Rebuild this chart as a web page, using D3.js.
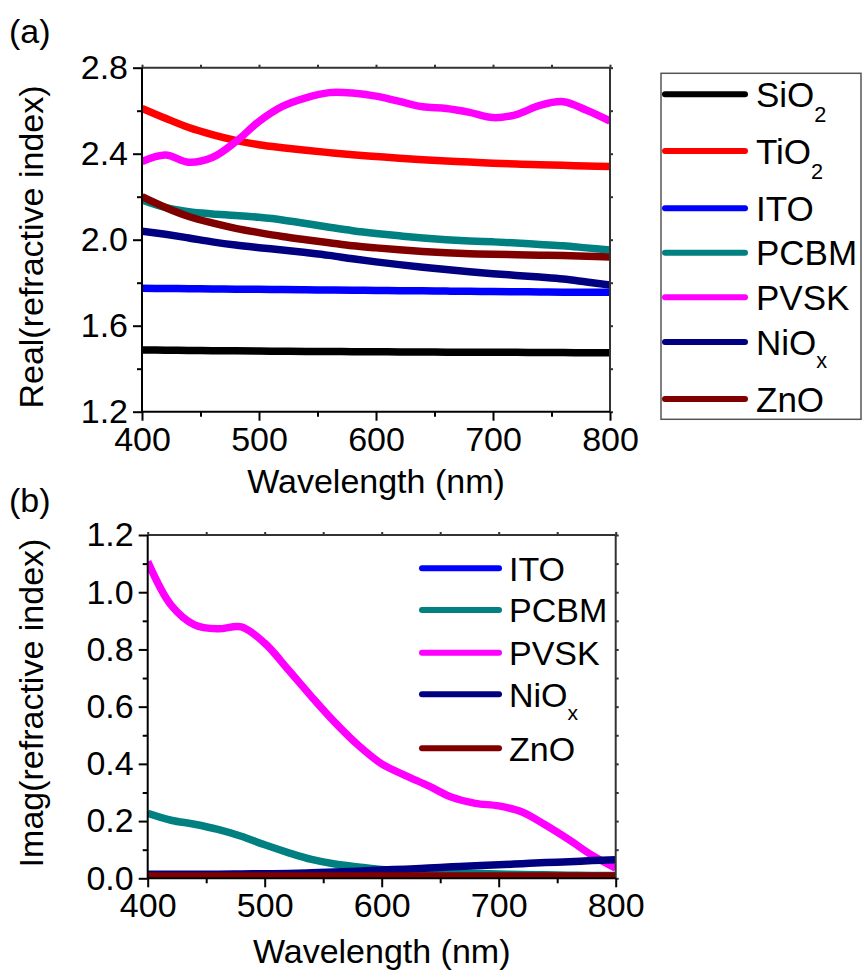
<!DOCTYPE html>
<html>
<head>
<meta charset="utf-8">
<script src="https://cdn.jsdelivr.net/npm/d3@7"></script>
<style>
  html, body { margin: 0; padding: 0; background: #fff; }
  svg { display: block; }
  svg text { font-family: "Liberation Sans", Arimo, Arial, sans-serif; }
</style>
</head>
<body>
<svg id="chart" width="862" height="974"></svg>
<script>
// Wavelength grid (nm) shared by every series
const wavelengths = [400, 420, 440, 460, 480, 500, 520, 540, 560, 580, 600,
                     620, 640, 660, 680, 700, 720, 740, 760, 780, 800];

// Real part of the refractive index
const realSiO2 = [1.487, 1.486, 1.485, 1.484, 1.483, 1.482, 1.481, 1.480, 1.480, 1.479, 1.479,
                  1.478, 1.478, 1.477, 1.477, 1.476, 1.476, 1.475, 1.475, 1.474, 1.474];
const realTiO2 = [2.611, 2.565, 2.522, 2.489, 2.462, 2.442, 2.428, 2.416, 2.405, 2.395, 2.387,
                  2.379, 2.372, 2.366, 2.361, 2.356, 2.352, 2.349, 2.346, 2.343, 2.340];
const realITO  = [1.774, 1.773, 1.772, 1.771, 1.770, 1.769, 1.768, 1.767, 1.766, 1.765, 1.764,
                  1.763, 1.762, 1.761, 1.760, 1.759, 1.758, 1.757, 1.756, 1.756, 1.755];
const realPCBM = [2.185, 2.150, 2.130, 2.120, 2.113, 2.104, 2.092, 2.075, 2.058, 2.042, 2.029,
                  2.018, 2.008, 2.000, 1.994, 1.990, 1.985, 1.978, 1.972, 1.962, 1.952];
const realPVSK = [2.363, 2.394, 2.360, 2.382, 2.455, 2.550, 2.620, 2.660, 2.684, 2.682, 2.668,
                  2.643, 2.618, 2.610, 2.592, 2.568, 2.582, 2.625, 2.642, 2.602, 2.552];
const realNiOx = [2.040, 2.025, 2.008, 1.990, 1.975, 1.963, 1.952, 1.940, 1.927, 1.911, 1.897,
                  1.884, 1.872, 1.861, 1.851, 1.842, 1.834, 1.826, 1.817, 1.803, 1.789];
const realZnO  = [2.200, 2.150, 2.108, 2.078, 2.053, 2.033, 2.015, 2.000, 1.986, 1.972, 1.962,
                  1.953, 1.945, 1.939, 1.935, 1.932, 1.930, 1.928, 1.926, 1.923, 1.920];

// Imaginary part of the refractive index
const imagITO  = [0.006, 0.006, 0.006, 0.006, 0.006, 0.006, 0.006, 0.006, 0.006, 0.006, 0.006,
                  0.006, 0.006, 0.006, 0.006, 0.006, 0.006, 0.006, 0.006, 0.006, 0.006];
const imagPCBM = [0.227, 0.203, 0.189, 0.171, 0.147, 0.117, 0.090, 0.066, 0.050, 0.040, 0.031,
                  0.026, 0.022, 0.019, 0.017, 0.015, 0.013, 0.012, 0.011, 0.010, 0.010];
const imagPVSK = [1.107, 0.955, 0.886, 0.872, 0.879, 0.822, 0.730, 0.635, 0.545, 0.465, 0.400,
                  0.360, 0.323, 0.283, 0.262, 0.253, 0.232, 0.186, 0.135, 0.080, 0.035];
const imagNiOx = [0.014, 0.014, 0.014, 0.014, 0.015, 0.016, 0.017, 0.019, 0.022, 0.025, 0.029,
                  0.032, 0.036, 0.040, 0.044, 0.047, 0.051, 0.055, 0.058, 0.062, 0.065];
const imagZnO  = [0.008, 0.008, 0.008, 0.008, 0.008, 0.008, 0.008, 0.008, 0.008, 0.008, 0.008,
                  0.008, 0.008, 0.008, 0.008, 0.008, 0.008, 0.008, 0.008, 0.008, 0.008];

// Material colours
const colors = { SiO2: "#000000", TiO2: "#ff0000", ITO: "#0000ff", PCBM: "#008080",
                 PVSK: "#ff00ff", NiOx: "#000080", ZnO: "#800000" };

// Axis tick values
const xTicks = [400, 500, 600, 700, 800];
const xMinor = [450, 550, 650, 750];
const yRealTicks = [1.2, 1.6, 2.0, 2.4, 2.8];
const yRealMinor = [1.4, 1.8, 2.2, 2.6];
const yImagTicks = [0.0, 0.2, 0.4, 0.6, 0.8, 1.0, 1.2];
const yImagMinor = [0.1, 0.3, 0.5, 0.7, 0.9, 1.1];

const realSeries = [
  { key: "SiO2", name: "SiO", sub: "2", values: realSiO2 },
  { key: "TiO2", name: "TiO", sub: "2", values: realTiO2 },
  { key: "ITO",  name: "ITO", sub: "",  values: realITO },
  { key: "PCBM", name: "PCBM", sub: "", values: realPCBM },
  { key: "PVSK", name: "PVSK", sub: "", values: realPVSK },
  { key: "NiOx", name: "NiO", sub: "x", values: realNiOx },
  { key: "ZnO",  name: "ZnO", sub: "",  values: realZnO }
];
const imagSeries = [
  { key: "ITO",  name: "ITO", sub: "",  values: imagITO },
  { key: "PCBM", name: "PCBM", sub: "", values: imagPCBM },
  { key: "PVSK", name: "PVSK", sub: "", values: imagPVSK },
  { key: "NiOx", name: "NiO", sub: "x", values: imagNiOx },
  { key: "ZnO",  name: "ZnO", sub: "",  values: imagZnO }
];

const svg = d3.select("#chart");
const FONT = 34;

function styleAxisText(a) {
  a.attr("font-family", null).attr("font-size", null);
  a.selectAll("text").attr("font-size", FONT).attr("fill", "#000");
}

function drawPanel(cfg) {
  const x = d3.scaleLinear().domain([400, 800]).range([cfg.left, cfg.right]);
  const y = d3.scaleLinear().domain(cfg.yDomain).range([cfg.bottom, cfg.top]);
  const g = svg.append("g");

  const clipId = "clip-" + cfg.id;
  svg.append("clipPath").attr("id", clipId)
    .append("rect")
    .attr("x", cfg.left).attr("y", cfg.top)
    .attr("width", cfg.right - cfg.left).attr("height", cfg.bottom - cfg.top);

  const line = d3.line()
    .x((d, i) => x(wavelengths[i]))
    .y(d => y(d))
    .curve(d3.curveCatmullRom.alpha(0.5));

  g.append("g").attr("clip-path", `url(#${clipId})`)
    .selectAll("path").data(cfg.series).join("path")
    .attr("d", d => line(d.values))
    .attr("fill", "none")
    .attr("stroke", d => colors[d.key])
    .attr("stroke-width", 7.5)
    .attr("stroke-linejoin", "round");

  // Top and right frame axes with short outward ticks
  g.append("g").attr("transform", `translate(0,${cfg.top})`)
    .call(d3.axisTop(x).tickValues(xTicks.concat(xMinor)).tickSize(3).tickFormat(""))
    .call(a => a.selectAll("path,line").attr("stroke", "#333").attr("stroke-width", 2))
    .call(a => a.select(".domain").attr("d", `M${cfg.left},0H${cfg.right}`));
  g.append("g").attr("transform", `translate(${cfg.right},0)`)
    .call(d3.axisRight(y).tickValues(cfg.yTicks.concat(cfg.yMinor)).tickSize(3).tickFormat(""))
    .call(a => a.selectAll("path,line").attr("stroke", "#333").attr("stroke-width", 2))
    .call(a => a.select(".domain").attr("d", `M0,${cfg.top}V${cfg.bottom}`));

  // Bottom axis: major ticks labelled, minor ticks shorter
  const xb = g.append("g").attr("transform", `translate(0,${cfg.bottom})`);
  xb.call(d3.axisBottom(x).tickValues(xTicks).tickSize(9).tickPadding(6).tickFormat(d3.format("d")))
    .call(a => a.selectAll("path,line").attr("stroke", "#000").attr("stroke-width", 2))
    .call(a => a.select(".domain").attr("d", `M${cfg.left},0H${cfg.right}`))
    .call(styleAxisText);
  xb.append("g").call(d3.axisBottom(x).tickValues(xMinor).tickSize(5).tickFormat(""))
    .call(a => a.select(".domain").remove())
    .call(a => a.selectAll("line").attr("stroke", "#000").attr("stroke-width", 2));

  // Left axis
  const yl = g.append("g").attr("transform", `translate(${cfg.left},0)`);
  yl.call(d3.axisLeft(y).tickValues(cfg.yTicks).tickSize(9).tickPadding(5).tickFormat(d3.format(".1f")))
    .call(a => a.selectAll("path,line").attr("stroke", "#000").attr("stroke-width", 2))
    .call(a => a.select(".domain").attr("d", `M0,${cfg.top}V${cfg.bottom}`))
    .call(styleAxisText);
  yl.append("g").call(d3.axisLeft(y).tickValues(cfg.yMinor).tickSize(5).tickFormat(""))
    .call(a => a.select(".domain").remove())
    .call(a => a.selectAll("line").attr("stroke", "#000").attr("stroke-width", 2));

  // Axis titles
  g.append("text")
    .attr("x", (cfg.left + cfg.right) / 2).attr("y", cfg.xTitleY)
    .attr("text-anchor", "middle").attr("font-size", FONT)
    .text("Wavelength (nm)");
  g.append("text")
    .attr("transform", `translate(${cfg.yTitleX},${cfg.yTitleCY}) rotate(-90)`)
    .attr("text-anchor", "middle").attr("font-size", FONT)
    .text(cfg.yTitle);

  // Panel label
  g.append("text").attr("x", 9).attr("y", cfg.labelY)
    .attr("font-size", FONT).text(cfg.label);

  return { x, y, g };
}

function drawLegend(series, lx0, lx1, tx, ys, fontSize) {
  const lg = svg.append("g");
  series.forEach((s, i) => {
    lg.append("line")
      .attr("x1", lx0).attr("x2", lx1).attr("y1", ys[i]).attr("y2", ys[i])
      .attr("stroke", colors[s.key]).attr("stroke-width", 6).attr("stroke-linecap", "round");
    const t = lg.append("text").attr("x", tx).attr("y", ys[i])
      .attr("dy", "0.36em").attr("font-size", fontSize);
    t.append("tspan").text(s.name);
    if (s.sub) {
      t.append("tspan").attr("font-size", fontSize * 0.62).attr("dy", s.sub === "x" ? 13 : 15).text(s.sub);
    }
  });
  return lg;
}

// (a) real part
drawPanel({
  id: "a", left: 142, right: 610, top: 67.7, bottom: 411.7,
  yDomain: [1.2, 2.8], yTicks: yRealTicks, yMinor: yRealMinor,
  series: realSeries, xTitleY: 493, yTitleX: 43, yTitleCY: 247,
  yTitle: "Real(refractive index)", label: "(a)", labelY: 43
});
// legend box to the right of panel (a)
svg.append("rect").attr("x", 661).attr("y", 73.3).attr("width", 200).attr("height", 346)
  .attr("fill", "none").attr("stroke", "#555").attr("stroke-width", 1.5);
drawLegend(realSeries, 665, 745, 756, [94.3, 151, 208.3, 252.7, 297.3, 342, 399], 35);

// (b) imaginary part
drawPanel({
  id: "b", left: 147.7, right: 615.7, top: 535, bottom: 878.3,
  yDomain: [0, 1.2], yTicks: yImagTicks, yMinor: yImagMinor,
  series: imagSeries, xTitleY: 963, yTitleX: 43, yTitleCY: 703,
  yTitle: "Imag(refractive index)", label: "(b)", labelY: 512
});
drawLegend(imagSeries, 422, 499, 509, [568.3, 610, 652.7, 694.3, 748.3], 34);
</script>
</body>
</html>
